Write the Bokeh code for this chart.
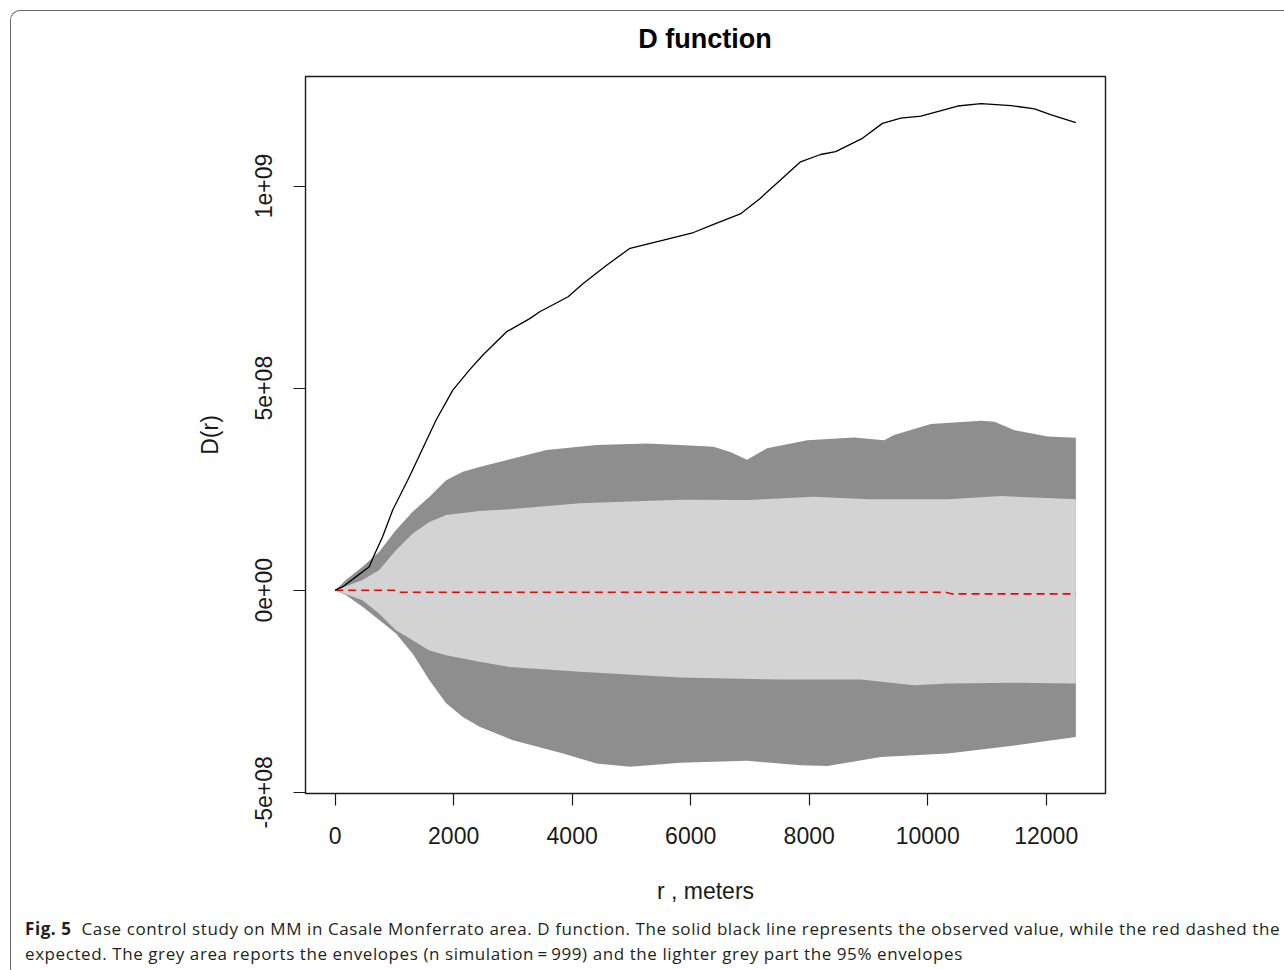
from bokeh.plotting import figure
from bokeh.models import Range1d, FixedTicker, Div
from bokeh.layouts import column
from bokeh.embed import file_html
from bokeh.resources import INLINE

# ---- data (r in meters, D values in units of 1e8) ----
D_UNIT = 1e8

r_obs = [0, 124, 350, 575, 660, 801, 970, 1224, 1305, 1704, 1986, 2268, 2494, 2889,
         3284, 3453, 3932, 4186, 4581, 4976, 5540, 6048, 6386, 6838, 7177, 7515,
         7854, 8192, 8446, 8898, 9236, 9546, 9885, 10506, 10900, 11408, 11803, 12085, 12500]
d_obs = [0, 0.08, 0.33, 0.58, 0.87, 1.32, 1.98, 2.72, 2.97, 4.21, 4.95, 5.45, 5.82, 6.39,
         6.72, 6.89, 7.26, 7.59, 8.04, 8.46, 8.66, 8.85, 9.05, 9.31, 9.70, 10.15,
         10.60, 10.78, 10.85, 11.18, 11.55, 11.68, 11.73, 11.98, 12.04, 11.99, 11.91, 11.76, 11.57]

r_theo = [0, 1000, 1100, 10300, 10400, 12500]
d_theo = [0, 0, -0.05, -0.05, -0.09, -0.09]

r_hi_out = [0, 181, 462, 745, 1027, 1309, 1591, 1873, 2155, 2437, 3001, 3566, 4412, 5259,
            5822, 6386, 6669, 6951, 7290, 7967, 8756, 9264, 9434, 10054, 10900, 11126,
            11465, 12029, 12500]
hi_out = [0, 0.25, 0.58, 0.95, 1.49, 1.94, 2.31, 2.72, 2.93, 3.05, 3.26, 3.47, 3.59, 3.63,
          3.59, 3.55, 3.42, 3.23, 3.51, 3.71, 3.78, 3.71, 3.84, 4.11, 4.19, 4.17,
          3.96, 3.80, 3.77]

r_lo_out = [0, 181, 462, 745, 1027, 1309, 1591, 1873, 2155, 2437, 3001, 3848, 4412, 4976,
            5822, 6951, 7854, 8305, 9208, 10336, 11465, 12500]
lo_out = [0, -0.12, -0.41, -0.74, -1.07, -1.57, -2.23, -2.80, -3.14, -3.38, -3.71, -4.04,
          -4.29, -4.37, -4.27, -4.22, -4.33, -4.35, -4.13, -4.04, -3.84, -3.63]

r_hi_in = [0, 462, 745, 1027, 1309, 1591, 1873, 2437, 2945, 4130, 5822, 6951, 8079, 9000,
           10336, 11239, 12500]
hi_in = [0, 0.25, 0.50, 0.99, 1.40, 1.69, 1.86, 1.96, 2.00, 2.15, 2.24, 2.23, 2.31, 2.25,
         2.25, 2.33, 2.25]

r_lo_in = [0, 462, 745, 1027, 1309, 1591, 1873, 2437, 2945, 4130, 5822, 7515, 8869, 9772,
           10336, 11465, 12500]
lo_in = [0, -0.25, -0.58, -0.99, -1.24, -1.49, -1.61, -1.77, -1.90, -2.02, -2.16, -2.21,
         -2.21, -2.35, -2.31, -2.29, -2.31]

x_ticks = [0, 2000, 4000, 6000, 8000, 10000, 12000]
y_ticks = [-5e8, 0, 5e8, 1e9]
y_tick_labels = ["-5e+08", "0e+00", "5e+08", "1e+09"]

title_text = "D function"
x_label = "r , meters"
y_label = "D(r)"
cap_bold = "Fig. 5"
cap_line1 = ("Case control study on MM in Casale Monferrato area. D function. The solid black "
             "line represents the observed value, while the red dashed the")
cap_line2 = ("expected. The grey area reports the envelopes (n simulation\u2009=\u2009999) and the "
             "lighter grey part the 95% envelopes")

# ---- title (above the plot frame) ----
title_html = (
    '<div style="width:800px; margin-left:289px; text-align:center; '
    'font-family:\'Liberation Sans\'; font-weight:bold; font-size:27px; '
    f'line-height:46px; color:black; white-space:nowrap;">{title_text}</div>'
)
title_div = Div(text=title_html, width=1272, height=50)

# ---- figure ----
p = figure(width=1272, height=844, output_backend="svg", toolbar_location=None,
           x_range=Range1d(-500, 13000), y_range=Range1d(-5.03e8, 1.271e9),
           min_border_left=294, min_border_right=178, min_border_top=5,
           min_border_bottom=122)
p.title.text_font_size = "0px"
p.title.standoff = 0
p.background_fill_color = "white"
p.border_fill_alpha = 0
p.outline_line_color = "#1a1a1a"
p.outline_line_width = 1.4
p.xgrid.visible = False
p.ygrid.visible = False

def D(vals):
    return [v * D_UNIT for v in vals]

# envelopes
p.patch(r_hi_out + r_lo_out[::-1], D(hi_out) + D(lo_out)[::-1],
        fill_color="#8e8e8e", line_color=None)
p.patch(r_hi_in + r_lo_in[::-1], D(hi_in) + D(lo_in)[::-1],
        fill_color="#d3d3d3", line_color=None)
# theoretical
p.line(r_theo, D(d_theo), line_color="#ff0000", line_width=1.6, line_dash="8 5")
# observed
p.line(r_obs, D(d_obs), line_color="black", line_width=1.3)

for ax in (p.xaxis[0], p.yaxis[0]):
    ax.major_tick_out = 12
    ax.major_tick_in = 0
    ax.minor_tick_out = 0
    ax.minor_tick_in = 0
    ax.axis_line_color = "#1a1a1a"
    ax.major_tick_line_color = "#1a1a1a"
    ax.major_tick_line_width = 1.2
    ax.major_label_text_font = "Liberation Sans"
    ax.major_label_text_font_size = "23px"
    ax.major_label_text_color = "#1a1a1a"
    ax.axis_label_text_font = "Liberation Sans"
    ax.axis_label_text_font_size = "23px"
    ax.axis_label_text_font_style = "normal"
    ax.axis_label_text_color = "#1a1a1a"

p.xaxis.ticker = FixedTicker(ticks=x_ticks)
p.xaxis.major_label_overrides = {t: str(t) for t in x_ticks}
p.xaxis.major_label_standoff = 21
p.xaxis.axis_label = x_label
p.xaxis.axis_label_standoff = 31

p.yaxis.ticker = FixedTicker(ticks=y_ticks)
p.yaxis.major_label_overrides = dict(zip(y_ticks, y_tick_labels))
p.yaxis.major_label_orientation = "vertical"
p.yaxis.major_label_standoff = 21
p.yaxis.axis_label = y_label
p.yaxis.axis_label_standoff = 30

# ---- caption ----
cap_html = (
    '<div style="padding-left:9px; margin-top:-4px; font-family:\'Open Sans\'; '
    'font-size:17px; letter-spacing:0.58px; line-height:25px; color:#231f20; '
    'white-space:nowrap;">'
    f'<b>{cap_bold}</b>&nbsp;&nbsp;{cap_line1}<br>{cap_line2}</div>'
)
cap = Div(text=cap_html, width=1272, height=52)

layout = column(title_div, p, cap, spacing=0)
layout.styles = {"margin-left": "10px", "margin-top": "10px",
                 "border-left": "1px solid #6b6b6b", "border-top": "1px solid #6b6b6b",
                 "border-bottom": "1px solid #6b6b6b", "border-top-left-radius": "10px",
                 "border-bottom-left-radius": "10px"}

open("out.html", "w").write(file_html(layout, INLINE))
